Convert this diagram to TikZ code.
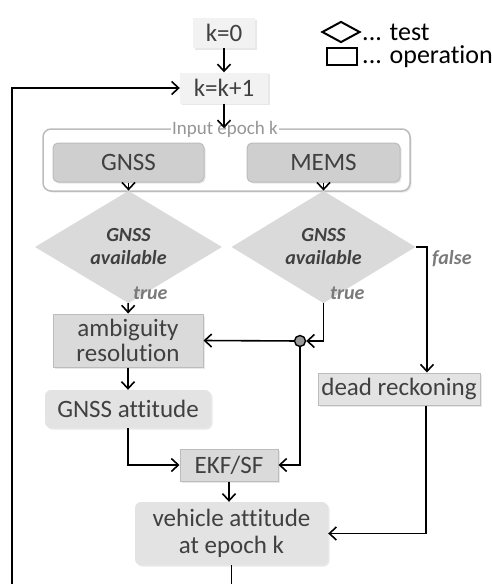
\documentclass[tikz,border=0pt]{standalone}
\usepackage{fontspec}
\setmainfont{Carlito}[Ligatures=NoCommon]
\usetikzlibrary{shapes.geometric,arrows.meta,shadows}
\definecolor{txtgray}{HTML}{404040}
\definecolor{lblgray}{HTML}{7a7a7a}
\definecolor{boxfill}{HTML}{dadada}
\definecolor{boxedge}{HTML}{bcbcbc}
\definecolor{softfill}{HTML}{e3e3e3}
\definecolor{pale}{HTML}{f2f2f2}

\tikzset{
  bigtxt/.style={font=\fontsize{25}{27}\selectfont,text=txtgray,align=center,inner sep=0pt},
  shad/.style={drop shadow={opacity=0.18,shadow xshift=1.5pt,shadow yshift=-1.5pt}},
  kbox/.style={bigtxt,rectangle,fill=pale,shad},
  opbox/.style={bigtxt,rectangle,fill=boxfill,draw=boxedge,line width=1pt,shad},
  softbox/.style={bigtxt,rectangle,rounded corners=6pt,fill=softfill,shad},
  inbox/.style={opbox,rounded corners=5pt,fill=boxfill!95!black},
  testbox/.style={diamond,fill=boxfill,inner sep=0pt,align=center,
    font=\fontsize{20}{23}\selectfont\bfseries\itshape,text=txtgray},
  tf/.style={font=\fontsize{20}{22}\selectfont\bfseries\itshape,text=lblgray,anchor=west,inner sep=0pt},
  flow/.style={draw=black,line width=1.6pt,->},
}

\begin{document}
\begin{tikzpicture}[x=1pt,y=-1pt,>={Straight Barb[length=7pt,width=13pt]}]
\useasboundingbox (0,0) rectangle (492,584);
\clip (0,0) rectangle (492,584);

% counter
\node[kbox,minimum width=62pt,minimum height=30pt] (k0) at (224,33) {k=0};
\node[kbox,minimum width=88pt,minimum height=31pt] (kk) at (224,88) {k=k+1};

% input group
\node[rectangle,rounded corners=8pt,draw=boxedge,line width=1.5pt,fill=white,shad,
  minimum width=367pt,minimum height=62pt] (inp) at (226.5,160) {};
\node[fill=white,inner sep=1pt,font=\fontsize{19}{21}\selectfont,text=boxedge!80!black] (inlbl) at (225,129) {Input epoch k};
\node[inbox,minimum width=151pt,minimum height=39pt] (gnss) at (128.5,162.5) {GNSS};
\node[inbox,minimum width=153pt,minimum height=39pt] (mems) at (323.5,162.5) {MEMS};

% tests
\node[testbox,minimum width=187pt,minimum height=70pt] (av1) at (128.5,247) {GNSS\\available};
\node[testbox,minimum width=184pt,minimum height=70pt] (av2) at (323.5,247) {GNSS\\available};

% operations
\node[opbox,minimum width=150pt,minimum height=53pt] (amb) at (128,340.5) {ambiguity\\[-2pt]resolution};
\node[softbox,minimum width=166pt,minimum height=38pt] (att) at (128,409) {GNSS attitude};
\node[opbox,minimum width=98pt,minimum height=32pt] (ekf) at (229,465) {EKF/SF};
\node[opbox,fill=softfill,minimum width=162pt,minimum height=32pt] (dr) at (399,389) {dead reckoning};
\node[softbox,minimum width=193pt,minimum height=63pt] (veh) at (231.5,533.5) {vehicle attitude\\at epoch k};

\node[circle,draw=black,line width=1.4pt,fill=gray!80,minimum size=11pt,inner sep=0pt] (j) at (300,341) {};
\coordinate (loop) at (12,600);

% connectors
\draw[flow] (k0) -- (kk);
\draw[flow] (kk.south) -- (kk.south |- inp.north);
\draw[flow] (gnss) -- (av1);
\draw[flow] (mems) -- (av2);
\draw[flow] (av1) -- (amb);
\draw[flow] (av2.south) |- (j.east);
\draw[flow] (j) -- (amb.east);
\draw[flow] (j.south) |- (ekf.east);
\draw[flow] (av2.east) -| ([xshift=28pt]dr.north);
\draw[flow] ([xshift=27pt]dr.south) |- (veh.east);
\draw[flow] (amb) -- (att);
\draw[flow] (att.south) |- (ekf.west);
\draw[flow] (ekf.south) -- (ekf.south |- veh.north);
\draw[flow] (veh.south) |- (loop) |- (kk.west);

\node[tf] (t1) at (133,293) {true};
\node[tf] (t2) at (330,293) {true};
\node[tf] (f2) at (432,259) {false};

% legend
\node[diamond,draw=black,line width=2pt,minimum width=38pt,minimum height=21pt,inner sep=0pt] (lgd) at (341,32) {};
\node[rectangle,draw=black,line width=2pt,minimum width=30pt,minimum height=17pt,inner sep=0pt] (lgr) at (342,56) {};
\node[anchor=west,inner sep=0pt,font=\fontsize{26}{27}\selectfont] (lgdt) at (362,32) {... test};
\node[anchor=west,inner sep=0pt,font=\fontsize{26}{27}\selectfont] (lgrt) at (362,57) {... operation};
\end{tikzpicture}
\end{document}
